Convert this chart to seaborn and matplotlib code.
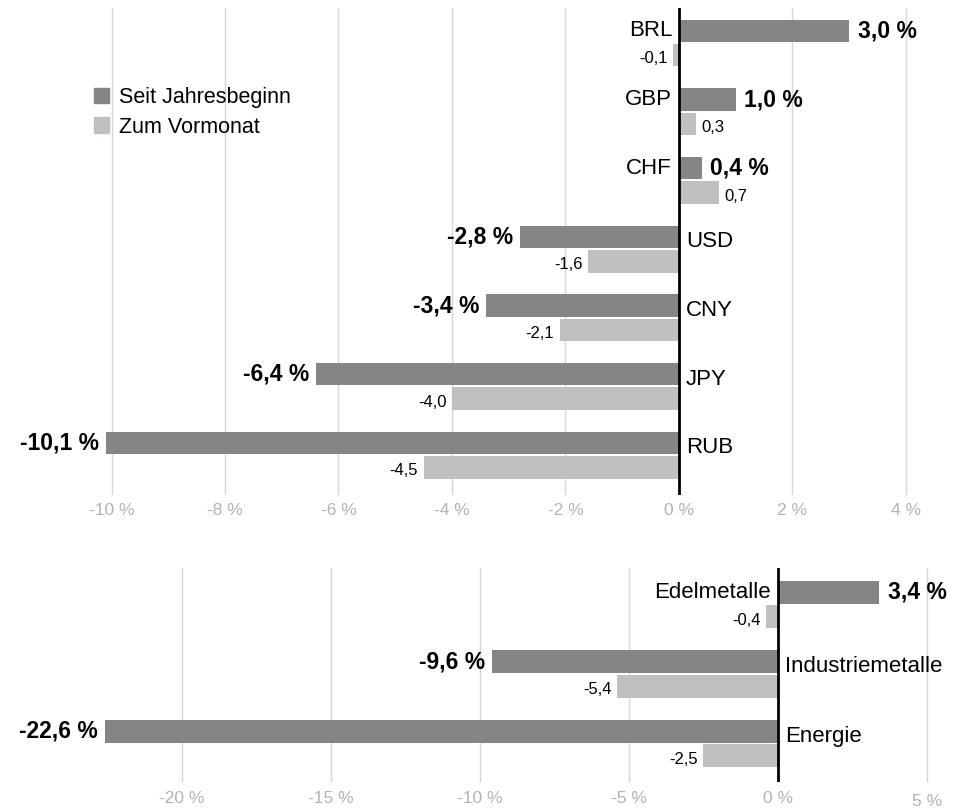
import pandas as pd
import matplotlib
matplotlib.use("Agg")
import matplotlib.pyplot as plt
import seaborn as sns

# Wechselkurse gegenueber EUR (in %)
waehrungen = ['BRL', 'GBP', 'CHF', 'USD', 'CNY', 'JPY', 'RUB']
waehrung_jahr = [3.0, 1.0, 0.4, -2.8, -3.4, -6.4, -10.1]
waehrung_monat = [-0.1, 0.3, 0.7, -1.6, -2.1, -4.0, -4.5]

# Rohstoffe (in %)
rohstoffe = ['Edelmetalle', 'Industriemetalle', 'Energie']
rohstoff_jahr = [3.4, -9.6, -22.6]
rohstoff_monat = [-0.4, -5.4, -2.5]

reihen = ['Seit Jahresbeginn', 'Zum Vormonat']
farben = ['#858489', '#c2bec1']

top_ticks = [-10, -8, -6, -4, -2, 0, 2, 4]
bottom_ticks = [-20, -15, -10, -5, 0, 5]

sns.set_theme(style='white')
plt.rcParams['font.family'] = ['Liberation Sans', 'DejaVu Sans']
plt.rcParams['text.color'] = 'black'


def fmt(v, prozent=False):
    s = f"{v:.1f}".replace('.', ',')
    if prozent:
        s += ' %'
    return s


def make_df(kat, jahr, monat):
    return pd.DataFrame({
        'kategorie': kat * 2,
        'wert': jahr + monat,
        'reihe': [reihen[0]] * len(kat) + [reihen[1]] * len(kat),
    })


def draw_panel(ax, kat, jahr, monat, ticks, ylim, xlim):
    df = make_df(kat, jahr, monat)
    sns.barplot(data=df, x='wert', y='kategorie', hue='reihe', orient='h',
                palette=farben, width=0.71, gap=0.08, linewidth=0,
                legend=False, ax=ax)
    ax.set_xlim(*xlim)
    ax.set_ylim(*ylim)
    ax.set_xlabel('')
    ax.set_ylabel('')
    ax.set_yticks([])
    ax.set_xticks(ticks)
    ax.set_xticklabels([f"{t} %" for t in ticks], color='#b3b3b3', fontsize=12.5)
    ax.tick_params(axis='x', length=0, pad=6)
    for t in ticks:
        if t != 0:
            ax.axvline(t, color='#d6d6d6', linewidth=1, zorder=0)
    ax.axvline(0, color='black', linewidth=2, zorder=3)
    for s in ax.spines.values():
        s.set_visible(False)

    off = 0.71 / 4
    for i, (k, j, m) in enumerate(zip(kat, jahr, monat)):
        yj = i - off
        ym = i + off
        # Kategorie-Label an der Nulllinie
        if j >= 0:
            ax.annotate(k, (0, yj), xytext=(-5, 0), textcoords='offset points',
                        ha='right', va='center', fontsize=16)
        else:
            ax.annotate(k, (0, yj + 0.07), xytext=(5, 0), textcoords='offset points',
                        ha='left', va='center', fontsize=16)
        # Wert seit Jahresbeginn (fett)
        ax.annotate(fmt(j, True), (j, yj), xytext=(6 if j >= 0 else -5, 0),
                    textcoords='offset points', ha='left' if j >= 0 else 'right',
                    va='center', fontsize=16.5, fontweight='bold')
        # Wert zum Vormonat
        ax.annotate(fmt(m), (m, ym + 0.05), xytext=(4 if m >= 0 else -4, 0),
                    textcoords='offset points', ha='left' if m >= 0 else 'right',
                    va='center', fontsize=12)


fig = plt.figure(figsize=(9.54, 8.10), dpi=100)
ax1 = fig.add_axes([0, 1 - 495 / 810, 1, (495 - 8) / 810])
ax2 = fig.add_axes([0, 1 - 782 / 810, 1, (782 - 568) / 810])

draw_panel(ax1, waehrungen, waehrung_jahr, waehrung_monat, top_ticks,
           (6.58, -0.51), (-679 / 56.75, (954 - 679) / 56.75))
draw_panel(ax2, rohstoffe, rohstoff_jahr, rohstoff_monat, bottom_ticks,
           (2.554, -0.525), (-778 / 29.8, (954 - 778) / 29.8))
ax2.tick_params(axis='x', pad=6.5)
ax2.xaxis.get_major_ticks()[-1].set_pad(8.5)

handles = [plt.Rectangle((0, 0), 1, 1, color=c) for c in farben]
ax1.legend(handles, reihen, loc='upper left', bbox_to_anchor=(94 / 954, 1 - 87 / 810),
           bbox_transform=fig.transFigure, frameon=False, fontsize=15.5,
           handlelength=0.72, handleheight=0.72, handletextpad=0.45,
           labelspacing=0.4, borderpad=0, borderaxespad=0)

fig.savefig('out.png', dpi=100, facecolor='white')
